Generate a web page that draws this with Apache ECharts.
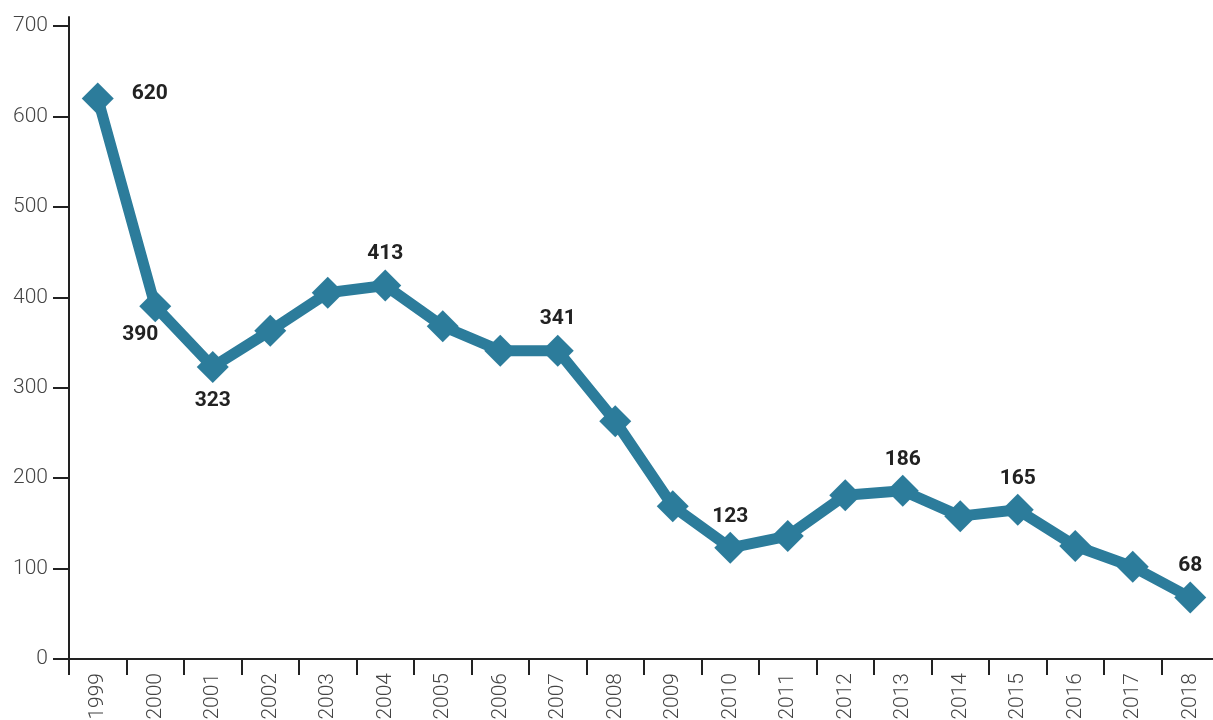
<!DOCTYPE html>
<html>
<head>
<meta charset="utf-8">
<script src="https://cdn.jsdelivr.net/npm/echarts@6/dist/echarts.min.js"></script>
<style>
  html, body { margin: 0; padding: 0; background: #ffffff; }
  #chart { width: 1213px; height: 720px; }
</style>
</head>
<body>
<div id="chart"></div>
<script>
// Yearly counts, 1999–2018
const years = ['1999', '2000', '2001', '2002', '2003', '2004', '2005', '2006', '2007', '2008',
               '2009', '2010', '2011', '2012', '2013', '2014', '2015', '2016', '2017', '2018'];
const counts = [620, 390, 323, 363, 405, 413, 368, 341, 341, 263,
                169, 123, 136, 181, 186, 158, 165, 125, 102, 68];
// Years whose value is printed next to the marker
const labelledYears = ['1999', '2000', '2001', '2004', '2007', '2010', '2013', '2015', '2018'];
const yTicks = [0, 100, 200, 300, 400, 500, 600, 700];

const LINE_COLOR = '#2c7c9b';
const AXIS_COLOR = '#222222';
const TEXT_COLOR = '#444444';

// Where each printed value sits relative to its marker
const labelPlacement = {
  '1999': { position: 'right', distance: 18, offset: [0, -5] },
  '2000': { position: 'bottom', distance: 2, offset: [-15, 0] },
  '2001': { position: 'bottom', distance: 7 }
};
const defaultPlacement = { position: 'top', distance: 5 };

const seriesData = years.map((yr, i) => {
  const item = { value: counts[i] };
  if (labelledYears.includes(yr)) {
    item.label = Object.assign({ show: true }, labelPlacement[yr] || defaultPlacement);
  }
  return item;
});

const chart = echarts.init(document.getElementById('chart'), null, { renderer: 'canvas' });

chart.setOption({
  animation: false,
  backgroundColor: '#ffffff',
  textStyle: { fontFamily: 'Roboto' },
  grid: {
    left: 69, top: 17, width: 1150, height: 642,
    containLabel: false,
    outerBoundsMode: 'none'
  },
  xAxis: {
    type: 'category',
    data: years,
    boundaryGap: true,
    axisLine: { show: true, lineStyle: { color: AXIS_COLOR, width: 2 } },
    axisTick: { show: true, length: 16, alignWithLabel: false, lineStyle: { color: AXIS_COLOR, width: 2 } },
    axisLabel: {
      rotate: 90,
      margin: 14,
      interval: 0,
      fontFamily: 'Roboto',
      fontSize: 21,
      fontWeight: 300,
      color: TEXT_COLOR
    },
    splitLine: { show: false }
  },
  yAxis: {
    type: 'value',
    min: 0,
    max: 710,
    interval: 100,
    axisLine: { show: true, lineStyle: { color: AXIS_COLOR, width: 2 } },
    axisTick: { show: true, length: 16, customValues: yTicks, lineStyle: { color: AXIS_COLOR, width: 2 } },
    axisLabel: {
      customValues: yTicks,
      margin: 21,
      fontFamily: 'Roboto',
      fontSize: 21,
      fontWeight: 300,
      color: TEXT_COLOR
    },
    splitLine: { show: false }
  },
  series: [{
    type: 'line',
    data: seriesData,
    symbol: 'diamond',
    symbolSize: 32,
    showAllSymbol: true,
    lineStyle: { color: LINE_COLOR, width: 11, join: 'round' },
    itemStyle: { color: LINE_COLOR },
    label: {
      show: false,
      fontFamily: 'Roboto',
      fontSize: 21,
      fontWeight: 'bold',
      color: '#222222'
    },
    emphasis: { disabled: true },
    z: 3
  }]
});
</script>
</body>
</html>
